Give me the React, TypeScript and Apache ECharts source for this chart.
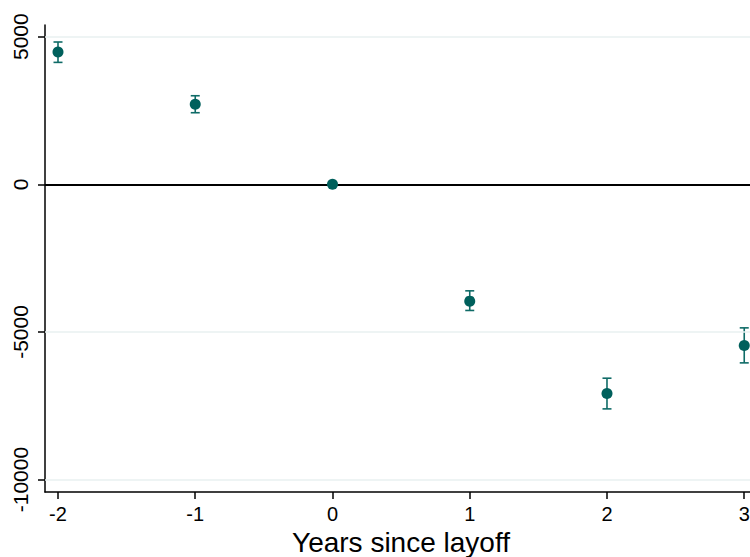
import React, { useEffect, useRef } from "react";
import * as echarts from "echarts";

const years = [-2, -1, 0, 1, 2, 3];
const estimates = [4480, 2710, 0, -3956, -7085, -5460];
const ciLower = [4130, 2425, 0, -4272, -7605, -6047];
const ciUpper = [4820, 3000, 0, -3607, -6566, -4861];
const yTicks = [-10000, -5000, 0, 5000];
const xTicks = [-2, -1, 0, 1, 2, 3];

const POINT = "#00605c";
const BAR = "#0f6b67";
const FONT = "Liberation Sans, Arial, Helvetica, sans-serif";

export default function App() {
  const ref = useRef<HTMLDivElement>(null);
  useEffect(() => {
    if (!ref.current) return;
    const chart = echarts.init(ref.current, undefined, { renderer: "svg" });
    const ciData = years
      .map((x, i) => [x, ciLower[i], ciUpper[i]])
      .filter((d) => d[1] !== d[2]);
    chart.setOption({
      animation: false,
      backgroundColor: "#ffffff",
      grid: { left: 45, top: 25, width: 712, height: 467, outerBoundsMode: "none", containLabel: false },
      xAxis: {
        type: "value",
        min: -2.0947,
        max: 3.093,
        name: "Years since layoff",
        nameLocation: "middle",
        nameGap: 32,
        nameTextStyle: { fontFamily: FONT, fontSize: 28, color: "#000" },
        axisLine: { show: true, onZero: false, lineStyle: { color: "#000", width: 1.5 } },
        axisTick: { show: true, length: 7, customValues: xTicks, lineStyle: { color: "#000", width: 1.5 } },
        axisLabel: {
          customValues: xTicks,
          margin: 12,
          fontFamily: FONT,
          fontSize: 20,
          color: "#000",
          formatter: (v: number) => String(v),
        },
        splitLine: { show: false },
      },
      yAxis: {
        type: "value",
        min: -10420,
        max: 5396,
        axisLine: { show: true, onZero: false, lineStyle: { color: "#000", width: 1.5 } },
        axisTick: { show: true, length: 7, customValues: yTicks, lineStyle: { color: "#000", width: 1.5 } },
        axisLabel: {
          customValues: yTicks,
          rotate: 90,
          margin: 14,
          fontFamily: FONT,
          fontSize: 21,
          color: "#000",
          formatter: (v: number) => String(v),
        },
        splitLine: { show: false },
      },
      series: [
        {
          type: "scatter",
          data: years.map((x, i) => [x, estimates[i]]),
          symbol: "circle",
          symbolSize: 11,
          itemStyle: { color: POINT, opacity: 1 },
          z: 5,
          markLine: {
            silent: true,
            symbol: "none",
            label: { show: false },
            data: [
              { yAxis: 5000, lineStyle: { color: "#e8f0f1", width: 1.5, type: "solid" } },
              { yAxis: -5000, lineStyle: { color: "#e8f0f1", width: 1.5, type: "solid" } },
              { yAxis: -10000, lineStyle: { color: "#e8f0f1", width: 1.5, type: "solid" } },
              { yAxis: 0, lineStyle: { color: "#000", width: 1.8, type: "solid" } },
            ],
          },
        },
        {
          type: "custom",
          data: ciData,
          z: 4,
          renderItem: (params: any, api: any) => {
            const x = api.value(0);
            const lo = api.coord([x, api.value(1)]);
            const hi = api.coord([x, api.value(2)]);
            const cap = 4.5;
            const style = { stroke: BAR, lineWidth: 1.6, fill: "none" };
            return {
              type: "group",
              children: [
                { type: "line", shape: { x1: lo[0], y1: lo[1], x2: hi[0], y2: hi[1] }, style },
                { type: "line", shape: { x1: lo[0] - cap, y1: lo[1], x2: lo[0] + cap, y2: lo[1] }, style },
                { type: "line", shape: { x1: hi[0] - cap, y1: hi[1], x2: hi[0] + cap, y2: hi[1] }, style },
              ],
            };
          },
        },
      ],
    });
    return () => chart.dispose();
  }, []);
  return (
    <div
      ref={ref}
      style={{ position: "fixed", left: 0, top: 0, width: 750, height: 557, background: "#fff" }}
    />
  );
}
